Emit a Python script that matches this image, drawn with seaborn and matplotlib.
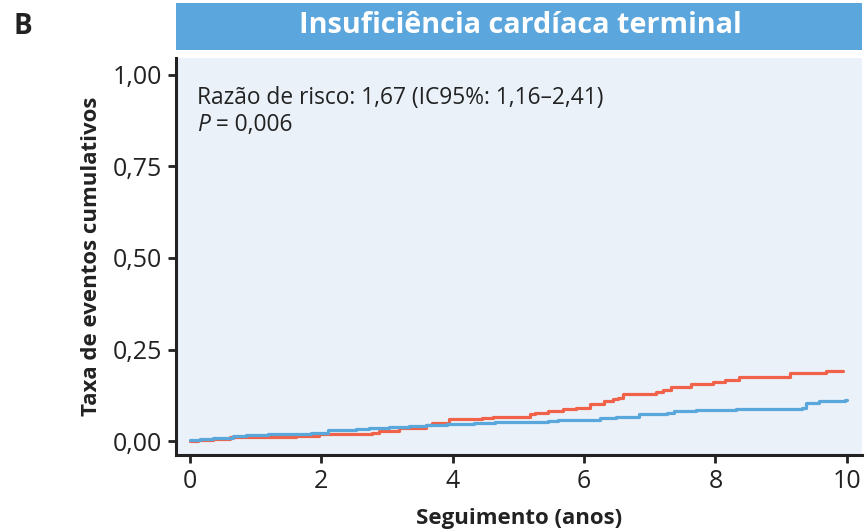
import numpy as np
import pandas as pd
import matplotlib.pyplot as plt
import seaborn as sns
from matplotlib.patches import Rectangle
#
# Data (time in years, cumulative event rate):
red_t = [0.0, 0.13, 0.35, 0.61, 1.62, 1.97, 2.78, 2.88, 3.18, 3.59, 3.69, 3.94,
         4.44, 4.62, 5.18, 5.25, 5.45, 5.68, 5.88, 6.09, 6.31, 6.44, 6.52, 6.59,
         7.10, 7.20, 7.32, 7.63, 7.97, 8.15, 8.36, 9.14, 9.68, 9.94]
red_v = [0.0, 0.003, 0.007, 0.011, 0.015, 0.019, 0.023, 0.027, 0.037, 0.043, 0.049, 0.059,
         0.062, 0.066, 0.073, 0.077, 0.081, 0.087, 0.091, 0.102, 0.110, 0.115, 0.119, 0.128,
         0.135, 0.140, 0.148, 0.155, 0.160, 0.167, 0.175, 0.186, 0.191, 0.191]
blue_t = [0.0, 0.15, 0.35, 0.66, 0.86, 1.19, 1.84, 2.10, 2.53, 2.73, 3.03, 3.33, 3.59,
          3.92, 4.32, 4.65, 5.45, 5.61, 6.24, 6.49, 6.84, 7.27, 7.37, 7.70, 8.31,
          9.32, 9.38, 9.57, 9.97, 10.0]
blue_v = [0.003, 0.006, 0.009, 0.013, 0.016, 0.019, 0.023, 0.029, 0.033, 0.035, 0.039, 0.042, 0.045,
          0.047, 0.050, 0.053, 0.055, 0.058, 0.062, 0.066, 0.073, 0.076, 0.081, 0.084, 0.088,
          0.091, 0.103, 0.110, 0.113, 0.113]
x_ticks = [0, 2, 4, 6, 8, 10]
y_ticks = [0.0, 0.25, 0.50, 0.75, 1.00]
y_tick_labels = ['0,00', '0,25', '0,50', '0,75', '1,00']
#
# Long table for seaborn:
df = pd.concat([
    pd.DataFrame({'t': red_t, 'v': red_v, 'grupo': 'A'}),
    pd.DataFrame({'t': blue_t, 'v': blue_v, 'grupo': 'B'}),
])
#
# Figure and axes:
sns.set_style('ticks')
plt.rcParams['font.family'] = ['Open Sans', 'DejaVu Sans']
fig = plt.figure(figsize=(8.68, 5.31), dpi=100)
ax = fig.add_axes([0.2028, 0.1431, 0.7902, 0.7477])
ax.set_facecolor('#EAF1F9')
sns.lineplot(
    data=df,
    x='t',
    y='v',
    hue='grupo',
    palette={'A': '#F0634A', 'B': '#5AA7DC'},
    drawstyle='steps-post',
    estimator=None,
    linewidth=2.3,
    legend=False,
    ax=ax
)
ax.set_xlim(-0.21, 10.23)
ax.set_ylim(-0.038, 1.046)
ax.set_xticks(x_ticks)
ax.set_yticks(y_ticks)
ax.set_yticklabels(y_tick_labels)
ax.tick_params(labelsize=18, length=6, width=2, color='#222222', labelcolor='#222222', pad=4)
for s in ['top', 'right']:
    ax.spines[s].set_visible(False)
for s in ['left', 'bottom']:
    ax.spines[s].set_linewidth(2.2)
    ax.spines[s].set_color('#222222')
ax.set_xlabel('Seguimento (anos)', fontsize=16, fontweight='bold', color='#222222', labelpad=10)
ax.set_ylabel('Taxa de eventos cumulativos', fontsize=16, fontweight='bold', color='#222222', labelpad=8)
#
# Annotation:
ax.text(0.031, 0.899, 'Razão de risco: 1,67 (IC95%: 1,16–2,41)', transform=ax.transAxes,
        fontsize=16.4, va='center', ha='left', color='#222222')
tp = ax.text(0.031, 0.830, 'P', transform=ax.transAxes, fontsize=16.4, style='italic',
             va='center', ha='left', color='#222222')
ax.annotate(' = 0,006', xy=(1, 0), xycoords=tp, va='bottom', ha='left', fontsize=16.4, color='#222222')
#
# Title bar and panel letter:
fig.patches.append(Rectangle((0.2028, 0.906), 0.7902, 0.088, transform=fig.transFigure,
                             facecolor='#5BA6DC', edgecolor='none'))
fig.text(0.600, 0.952, 'Insuficiência cardíaca terminal', fontsize=20.8, fontweight='bold',
         color='white', ha='center', va='center')
fig.text(0.026, 0.950, 'B', fontsize=20, fontweight='bold', color='#222222', ha='center', va='center')
fig.savefig('out.png', dpi=100)
